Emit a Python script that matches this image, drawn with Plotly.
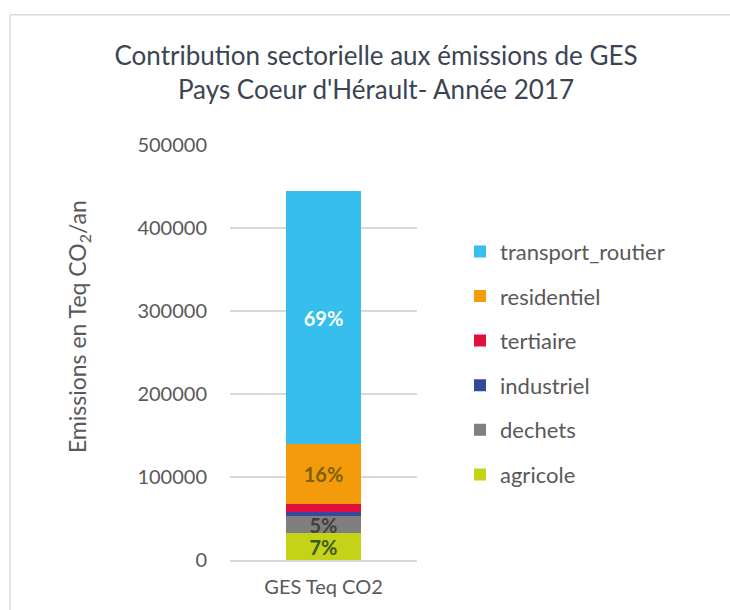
import plotly.graph_objects as go

# data (Teq CO2 / an), bottom to top of the stack
secteurs = ['agricole', 'dechets', 'industriel', 'tertiaire', 'residentiel', 'transport_routier']
emissions = [32400, 20300, 5200, 9200, 72300, 305400]
couleurs = ['#C4D318', '#7F7F7F', '#344A9A', '#E10F3E', '#F49B0B', '#36BEEC']
couleurs_labels = ['#3B5A1F', '#404040', '#FFFFFF', '#FFFFFF', '#7F6000', '#FFFFFF']
categorie = ['GES Teq CO2']

total = sum(emissions)

W, H = 730, 610
ML, MR, MT, MB = 230, 313, 145, 48
FONT = 'Lato'

fig = go.Figure()

for i, (nom, val, col, lcol) in enumerate(zip(secteurs, emissions, couleurs, couleurs_labels)):
    pct = round(val / total * 100)
    # small sectors get no label, like in the original
    label = [f'{pct}%'] if pct >= 5 else None
    fig.add_trace(go.Bar(
        x=categorie,
        y=[val],
        name=nom,
        legendgroup=nom,
        legendrank=len(secteurs) - i,
        marker=dict(color=col, line=dict(width=0)),
        text=label,
        textposition='inside' if label else 'none',
        insidetextanchor='middle',
        constraintext='none',
        textfont=dict(family=FONT, size=20, color=lcol, weight='bold'),
        hoverinfo='name+y',
    ))

fig.update_layout(
    barmode='stack',
    bargap=0.6,
    width=W,
    height=H,
    margin=dict(l=ML, r=MR, t=MT, b=MB),
    paper_bgcolor='white',
    plot_bgcolor='white',
    font=dict(family=FONT, color='#595959'),
    title=dict(
        text="Contribution sectorielle aux émissions de GES<br>Pays Coeur d'Hérault- Année 2017",
        x=376 / W,
        xanchor='center',
        xref='container',
        y=1 - 65 / H,
        yanchor='middle',
        yref='container',
        font=dict(family=FONT, size=26, color='#3B4453'),
    ),
    legend=dict(
        x=1 + (460 - (W - MR)) / (W - ML - MR),
        xanchor='left',
        y=1 - (231 - MT) / (H - MT - MB),
        yanchor='top',
        traceorder='grouped',
        tracegroupgap=13,
        font=dict(family=FONT, size=22, color='#595959'),
        bgcolor='rgba(0,0,0,0)',
    ),
    yaxis=dict(
        range=[0, 500000],
        dtick=100000,
        tickformat='d',
        showgrid=True,
        gridcolor='#D9D9D9',
        gridwidth=1.5,
        zeroline=False,
        showline=False,
        ticklabelstandoff=22,
        tickfont=dict(family=FONT, size=20, color='#595959'),
    ),
    xaxis=dict(
        showline=True,
        linecolor='#D9D9D9',
        linewidth=1.5,
        tickfont=dict(family=FONT, size=20, color='#595959'),
        ticklabelstandoff=8,
    ),
    annotations=[dict(
        text='Emissions en Teq CO<sub>2</sub>/an',
        textangle=-90,
        xref='paper', yref='paper',
        x=(78 - ML) / (W - ML - MR),
        y=(H - MB - 328) / (H - MT - MB),
        xanchor='center', yanchor='middle',
        showarrow=False,
        font=dict(family=FONT, size=23, color='#595959'),
    )],
)

# chart frame (only top and left edges are visible in the crop)
pw, ph = W - ML - MR, H - MT - MB
px = lambda v: (v - ML) / pw
py = lambda v: (H - MB - v) / ph
fig.add_shape(type='line', xref='paper', yref='paper',
              x0=px(10), x1=px(W + 5), y0=py(14), y1=py(14),
              line=dict(color='#D9D9D9', width=1.5))
fig.add_shape(type='line', xref='paper', yref='paper',
              x0=px(10), x1=px(10), y0=py(14), y1=py(H + 5),
              line=dict(color='#D9D9D9', width=1.5))

# drop the default page margin so the figure sits at the window corner
fig.write_html('out.html', config={'displayModeBar': False},
               post_script="document.body.style.margin='0';")
